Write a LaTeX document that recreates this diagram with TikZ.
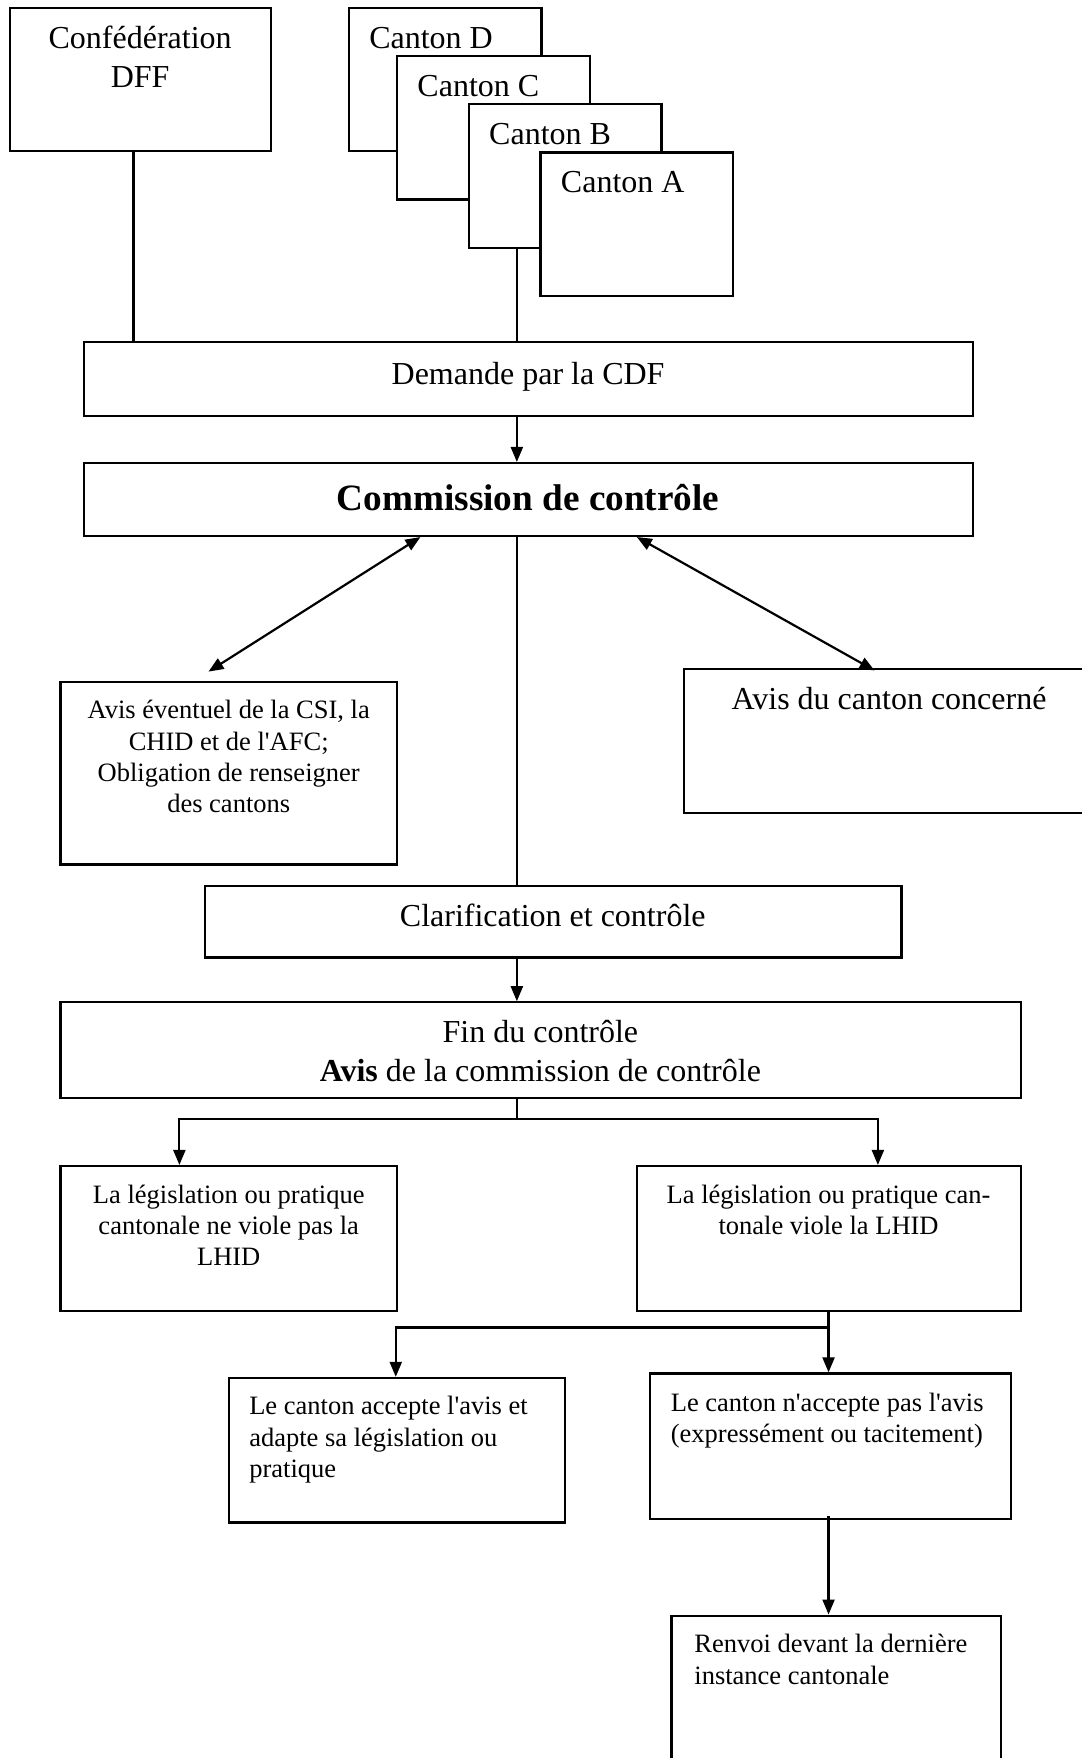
\documentclass[tikz,border=0pt]{standalone}
\usepackage{fontspec}
\setmainfont{Liberation Serif}[Ligatures=TeXOff]
\usetikzlibrary{arrows.meta,fit}
\tikzset{
  box/.style={draw, line width=1.1pt, fill=white, inner sep=0pt, rectangle},
  big/.style={font=\fontsize{16}{19.6}\selectfont, inner sep=0pt},
  small/.style={font=\fontsize{13.25}{15.7}\selectfont, inner sep=0pt},
  conn/.style={line width=1.1pt},
  arr/.style={conn, -{Triangle[length=7.5pt,width=6pt]}},
  darr/.style={conn, {Triangle[length=7.5pt,width=6pt]}-{Triangle[length=7.5pt,width=6pt]}}
}
\newcommand\mybox[5]{\node[box, fit={(#2,#3) (#4,#5)}] (#1) {};}
\begin{document}
\begin{tikzpicture}[x=0.5606pt,y=-0.5606pt]
\useasboundingbox[fill=white] (0,0) rectangle (965,1568);
% top boxes
\mybox{conf}{9}{7}{242}{135}
\node[big, align=center, anchor=base] (tconf) at (125,78) {Confédération\\DFF};
\mybox{cD}{311}{7}{483}{135}
\node[big, anchor=base west] (tD) at (329,43) {Canton D};
\mybox{cC}{354}{50}{526}{178}
\node[big, anchor=base west] (tC) at (372,86) {Canton C};
\mybox{cB}{418}{93}{590}{221}
\node[big, anchor=base west] (tB) at (436,129) {Canton B};
\mybox{cA}{482}{136}{654}{264}
\node[big, anchor=base west] (tA) at (500,172) {Canton A};
% main column
\mybox{dem}{75}{305}{868}{371}
\node[big, anchor=base] (tdem) at (471,343) {Demande par la CDF};
\mybox{com}{75}{413}{868}{478}
\node[font=\fontsize{18.6}{22}\selectfont\bfseries, inner sep=0pt, anchor=base] (tcom) at (471,455) {Commission de contrôle};
\mybox{ave}{54}{608}{354}{771}
\node[small, align=center, anchor=base] (tave) at (204,725) {Avis éventuel de la CSI, la\\CHID et de l'AFC;\\Obligation de renseigner\\des cantons};
\mybox{avc}{610}{597}{980}{725}
\node[big, anchor=base] (tavc) at (793,633) {Avis du canton concerné};
\mybox{cla}{183}{790}{804}{854}
\node[big, anchor=base] (tcla) at (493,826) {Clarification et contrôle};
\mybox{fin}{54}{894}{911}{979}
\node[big, align=center, anchor=base] (tfin) at (482,965) {Fin du contrôle\\\textbf{Avis} de la commission de contrôle};
\mybox{nv}{54}{1040}{354}{1169}
\node[small, align=center, anchor=base] (tnv) at (204,1129) {La législation ou pratique\\cantonale ne viole pas la\\LHID};
\mybox{vi}{568}{1040}{911}{1169}
\node[small, align=center, anchor=base] (tvi) at (739,1101) {La législation ou pratique can-\\tonale viole la LHID};
\mybox{acc}{204}{1229}{504}{1358}
\node[small, align=left, anchor=base west] (tacc) at (222,1318) {Le canton accepte l'avis et\\adapte sa législation ou\\pratique};
\mybox{nac}{580}{1225}{902}{1355}
\node[small, align=left, anchor=base west] (tnac) at (598,1287) {Le canton n'accepte pas l'avis\\(expressément ou tacitement)};
\mybox{ren}{599}{1441}{893}{1590}
\node[small, align=left, anchor=base west] (tren) at (619,1502) {Renvoi devant la dernière\\instance cantonale};
% connectors
\draw[conn] (119,0 |- conf.south) -- (119,0 |- dem.north);
\draw[conn] (461,0 |- cB.south) -- (461,0 |- dem.north);
\draw[arr] (461,0 |- dem.south) -- (461,0 |- com.north);
\draw[conn] (461,0 |- com.south) -- (461,0 |- cla.north);
\draw[darr] (375,0 |- com.south) -- (186,599);
\draw[darr] (568,0 |- com.south) -- (780,598);
\draw[arr] (461,0 |- cla.south) -- (461,0 |- fin.north);
\coordinate (s1) at (461,998);
\draw[conn] (461,0 |- fin.south) -- (s1);
\draw[arr] (s1) -| (160,0 |- nv.north);
\draw[arr] (s1) -| (783,0 |- vi.north);
\coordinate (s2) at (739,1184);
\draw[conn] (739,0 |- vi.south) -- (s2);
\draw[arr] (s2) -| (353,0 |- acc.north);
\draw[arr] (s2) -- (739,0 |- nac.north);
\draw[arr] (739,1352) -- (739,0 |- ren.north);
\end{tikzpicture}
\end{document}
